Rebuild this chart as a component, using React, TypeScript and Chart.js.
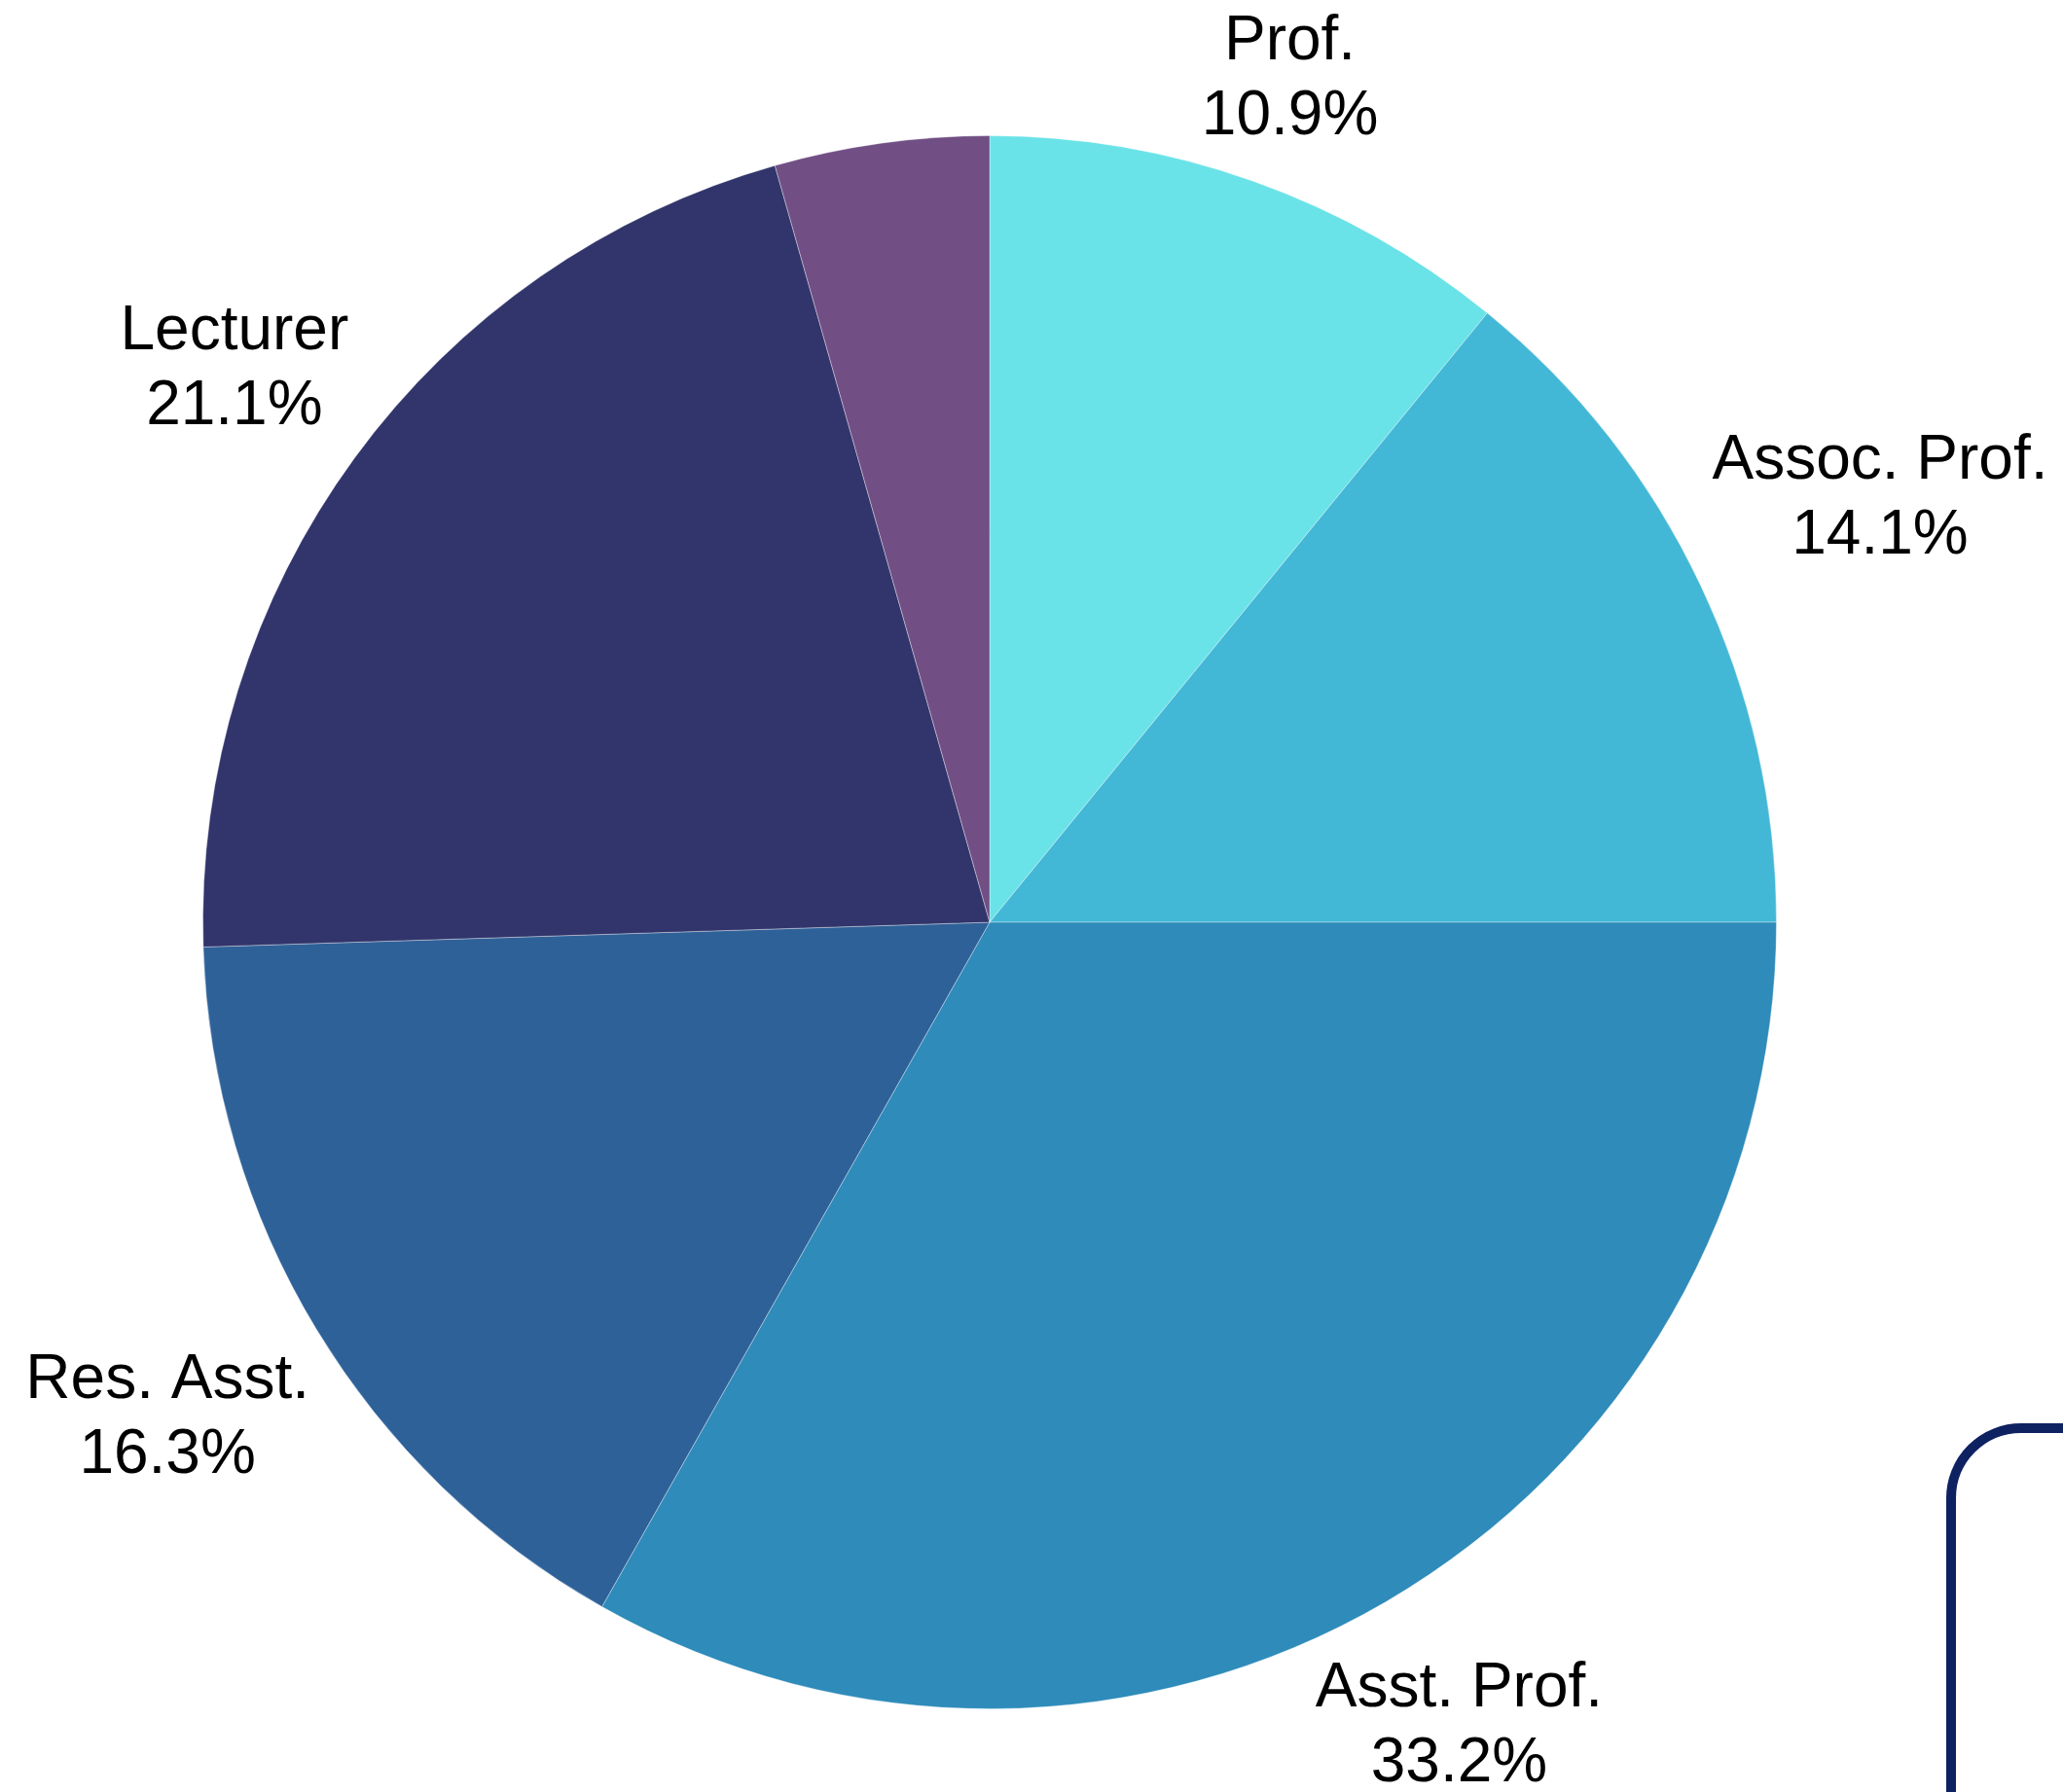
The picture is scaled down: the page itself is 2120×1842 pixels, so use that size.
import React, { useEffect, useRef } from "react";
import { Chart, registerables } from "chart.js";

Chart.register(...registerables);

const categories = ["Prof.", "Assoc. Prof.", "Asst. Prof.", "Res. Asst.", "Lecturer", "Other"];
const shares = [10.9, 14.1, 33.2, 16.3, 21.1, 4.4];
const sliceColors = ["#6ae3e8", "#43b7d6", "#2e8bba", "#2f6199", "#31356b", "#714f85"];
const LABEL_MIN_SHARE = 5;

const FONT_SIZE = 64;
const LINE_GAP = 77;
const CAP_H = 46;
const LABEL_PAD = 22;
const TEXT_SHIFT = -6;

const outsideLabels = {
  id: "outsideLabels",
  afterDatasetsDraw(chart: any) {
    const ctx = chart.ctx as CanvasRenderingContext2D;
    const meta = chart.getDatasetMeta(0);
    const data = chart.data.datasets[0].data as number[];
    const total = data.reduce((a, b) => a + b, 0);
    ctx.save();
    ctx.font = `${FONT_SIZE}px "Liberation Sans", Arial, sans-serif`;
    ctx.fillStyle = "#000000";
    ctx.textAlign = "center";
    ctx.textBaseline = "alphabetic";
    meta.data.forEach((arc: any, i: number) => {
      const pct = (data[i] / total) * 100;
      if (pct < LABEL_MIN_SHARE) return;
      const p = arc.getProps(["x", "y", "startAngle", "endAngle", "outerRadius"], true);
      const mid = (p.startAngle + p.endAngle) / 2;
      const dx = Math.cos(mid);
      const dy = Math.sin(mid);
      const lines = [String(chart.data.labels[i]), pct.toFixed(1) + "%"];
      const w = Math.max(...lines.map((l) => ctx.measureText(l).width));
      const h = LINE_GAP + CAP_H;
      const dist = p.outerRadius + LABEL_PAD + Math.abs(dx) * (w / 2) + Math.abs(dy) * (h / 2);
      const cx = p.x + dx * dist;
      const cy = p.y + dy * dist;
      const top = cy - h / 2 + TEXT_SHIFT;
      ctx.fillText(lines[0], cx, top + CAP_H);
      ctx.fillText(lines[1], cx, top + CAP_H + LINE_GAP);
    });
    ctx.restore();
  },
};

export default function App() {
  const canvasRef = useRef<HTMLCanvasElement | null>(null);

  useEffect(() => {
    const canvas = canvasRef.current;
    if (!canvas) return;
    const chart = new Chart(canvas, {
      type: "pie",
      data: {
        labels: categories,
        datasets: [
          {
            data: shares,
            backgroundColor: sliceColors,
            borderColor: "rgba(255,255,255,0.35)",
            borderWidth: 1,
            hoverBorderWidth: 1,
            hoverOffset: 0,
          },
        ],
      },
      options: {
        responsive: false,
        animation: false,
        devicePixelRatio: 1,
        layout: { padding: { left: 208, right: 294, top: 139, bottom: 85 } },
        plugins: {
          legend: { display: false },
          tooltip: { enabled: false },
        },
        events: [],
      },
      plugins: [outsideLabels],
    });
    return () => chart.destroy();
  }, []);

  return (
    <div
      style={{
        position: "fixed",
        left: 0,
        top: 0,
        width: 2120,
        height: 1842,
        overflow: "hidden",
        background: "#ffffff",
      }}
    >
      <canvas ref={canvasRef} width={2120} height={1842} style={{ display: "block" }} />
      <div
        style={{
          position: "absolute",
          left: 2000,
          top: 1463,
          width: 400,
          height: 700,
          border: "10px solid #0e2161",
          borderRadius: 77,
          boxSizing: "border-box",
        }}
      />
    </div>
  );
}
